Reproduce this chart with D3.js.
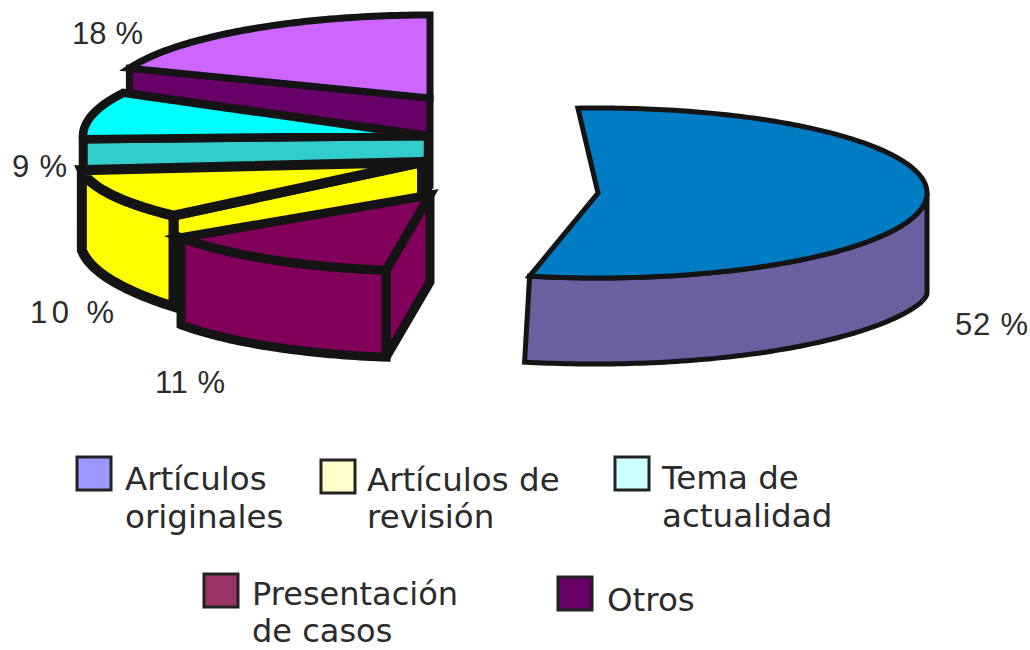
<!DOCTYPE html>
<html><head><meta charset="utf-8">
<script src="https://cdn.jsdelivr.net/npm/d3@7"></script>
<style>html,body{margin:0;background:#fff}svg{display:block}</style></head>
<body><svg id="c" width="1030" height="650"></svg>
<script>
// clockwise from the top of the pie
const categories = ["Artículos originales","Presentación de casos","Artículos de revisión","Tema de actualidad","Otros"];
const values = [52,11,10,9,18];
const valueLabels = ["52 %","11 %","10 %","9 %","18 %"];
const topColors = ["#007cc4","#80005a","#ffff00","#00ffff","#cc66ff"];
const wallColors = ["#6c5f9f","#80005a","#ffff00","#33cccc","#660066"];

// legend
const legendOrder = ["Artículos originales","Artículos de revisión","Tema de actualidad","Presentación de casos","Otros"];
const legendLines = [["Artículos","originales"],["Artículos de","revisión"],["Tema de","actualidad"],["Presentación","de casos"],["Otros"]];
const legendColors = ["#9999ff","#ffffcc","#ccffff","#993366","#660066"];

// layout (per slice, same order as categories)
const sliceCx = [598,430,422,428,430], sliceCy = [193,195,162,136,98];
const sliceRx = [329,301,342,345,322], sliceRy = [85,76,78,92,83];
const sliceDepth = [86,87,80,87,87], sliceFlare = [14,0,11,0,0], flarePow = [6,1,1,1,1], sliceLean = [5,0,0,0,0];
const sliceStroke = [5,9,10,8.5,7];
const nudgeStart = [-3.5,1.2,-0.2,5.2,-4.2], nudgeEnd = [4.8,9,1.2,2.8,0];
const labelX = [955,155,30,12,72], labelY = [335,393,323,177,44], labelW = [73,70,84,55,71];
const legendBoxX = [77,321,615,204,558], legendBoxY = [457,460,457,574,577];
const legendTextX = [125,367,662,252,607], legendTextY = [490,491,489,605,611];
const legendLeading = [38,37,38,37,0];
const legendFont = [32.5,32.5,32.5,32,32.5];

const svg = d3.select("#c");
const deg = Math.PI/180;
const arcs = d3.pie().sort(null).startAngle(0).endAngle(2*Math.PI)(values);
const line = d3.line();

const draw = (g, pts, fill, sw, miter = 6) => g.append("path")
  .attr("d", line(pts)+"Z").attr("fill", fill).attr("stroke", "#141414")
  .attr("stroke-width", sw).attr("stroke-linejoin", "miter").attr("stroke-miterlimit", miter);

// back to front; the large slice is separate
[4,3,2,1,0].forEach(i => {
  const a = arcs[i];
  const t0 = a.startAngle/deg + nudgeStart[i], t1 = a.endAngle/deg + nudgeEnd[i];
  const cx = sliceCx[i], cy = sliceCy[i], d = sliceDepth[i];
  const X = d3.scaleLinear().domain([-1,1]).range([cx-sliceRx[i], cx+sliceRx[i]]);
  const Y = d3.scaleLinear().domain([-1,1]).range([cy-sliceRy[i], cy+sliceRy[i]]);
  const rim = t => [X(Math.sin(t*deg)), Y(-Math.cos(t*deg))];
  const g = svg.append("g").attr("class","slice");
  const sw = sliceStroke[i];

  // cut face at the start of the slice
  if (t0 >= 180) {
    const p = rim(t0);
    draw(g, [p,[cx,cy],[cx,cy+d],[p[0],p[1]+d]], wallColors[i], sw, 2);
  }
  // outer wall (only the front half of the rim shows)
  const w0 = Math.max(t0,90), w1 = Math.min(t1,270);
  if (w1 > w0) {
    const ts = d3.range(w0, w1, 1).concat([w1]);
    const topEdge = ts.map(rim);
    const botEdge = ts.map(t => {
      const f = (w1-t)/(w1-w0), p = rim(t);
      return [p[0] - sliceLean[i]*Math.pow(1-f,4), p[1] + d + sliceFlare[i]*Math.pow(f,flarePow[i])];
    }).reverse();
    draw(g, topEdge.concat(botEdge), wallColors[i], sw, 3);
  }
  // top face
  const ts = d3.range(t0, t1, 1).concat([t1]);
  draw(g, [[cx,cy]].concat(ts.map(rim)), topColors[i], sw);
});

// value labels
svg.append("g").selectAll("text").data(valueLabels).join("text")
  .attr("x",(d,i)=>labelX[i]).attr("y",(d,i)=>labelY[i])
  .attr("textLength",(d,i)=>labelW[i]).attr("lengthAdjust","spacing")
  .attr("font-family","'Liberation Sans',Arial,sans-serif").attr("font-size",31)
  .attr("fill","#2b2b2b").text(d=>d);

// legend
const lg = svg.append("g").selectAll("g").data(legendOrder).join("g");
lg.append("rect").attr("x",(d,i)=>legendBoxX[i]).attr("y",(d,i)=>legendBoxY[i])
  .attr("width",34).attr("height",33).attr("fill",(d,i)=>legendColors[i])
  .attr("stroke","#222").attr("stroke-width",3);
lg.each(function(d,i){
  d3.select(this).selectAll("text").data(legendLines[i]).join("text")
    .attr("x",legendTextX[i]).attr("y",(s,j)=>legendTextY[i]+j*legendLeading[i])
    .attr("font-family","'DejaVu Sans',Verdana,sans-serif").attr("font-size",legendFont[i])
    .attr("fill","#2b2b2b").text(s=>s);
});
</script></body></html>
